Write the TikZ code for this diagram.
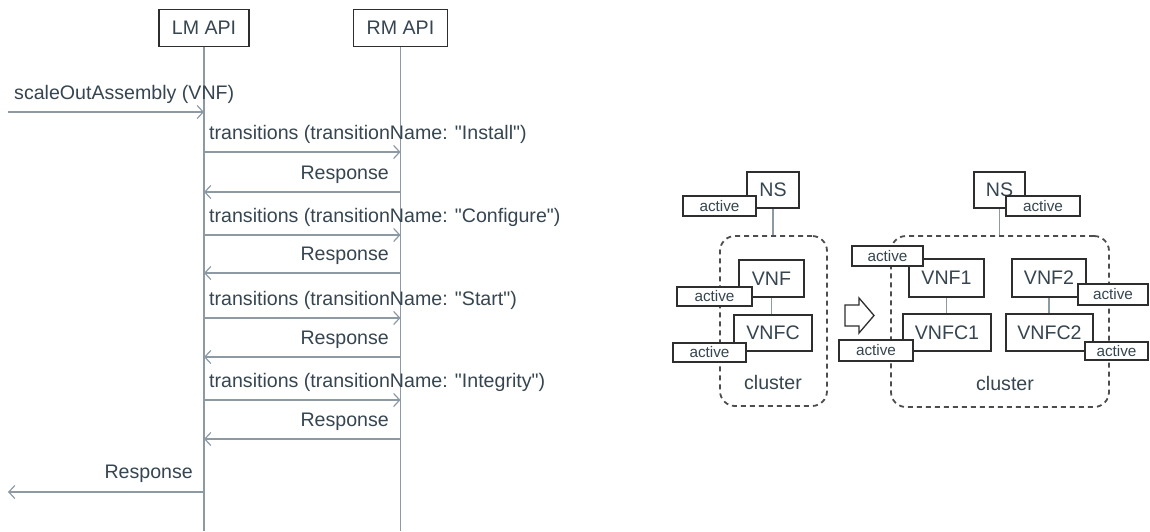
\documentclass[tikz,border=0pt]{standalone}
\usepackage{fontspec}
\setmainfont{Liberation Sans}[Ligatures=TeXOff]
\usetikzlibrary{arrows.meta}
\definecolor{txt}{HTML}{36454F}
\definecolor{ln}{HTML}{8E9AA3}
\definecolor{bx}{HTML}{2E2E2E}
\begin{document}
\begin{tikzpicture}[x=1pt,y=-1pt,
  font=\fontsize{19.6}{21}\selectfont,
  every node/.style={text=txt},
  actor/.style={draw=bx,line width=1.8pt,fill=white,inner sep=0,minimum width=#1,minimum height=37},
  life/.style={draw=ln,line width=1.5pt},
  msg/.style={draw=ln,line width=1.5pt,-{Straight Barb[length=6pt,width=13pt,line width=1.2pt]}},
  lbl/.style={inner sep=0},
  box/.style={draw=bx,line width=1.6pt,fill=white,inner sep=0},
  act/.style={draw=bx,line width=1.5pt,fill=white,inner sep=0,font=\fontsize{15.3}{16}\selectfont},
  link/.style={draw=ln,line width=1.3pt},
  clus/.style={draw=bx!85,line width=1.8pt,dash pattern=on 5pt off 4pt,rounded corners=15pt,inner sep=0}
]
\useasboundingbox (0,0) rectangle (1150,531);

% ---------- sequence diagram ----------
\node[actor=90] (LM) at (204,28) {LM API};
\node[actor=94] (RM) at (400.5,28) {RM API};
\coordinate (LMend) at (204,531);
\coordinate (RMend) at (400.5,531);
\draw[life] (LM.south) -- (LMend);
\draw[life] (RM.south) -- (RMend);

\coordinate (ext1) at (8,112);
\coordinate (ext2) at (8,492);

\draw[msg] (ext1) -- (LM |- ext1);
\node[lbl,anchor=base west] (t0) at (14,99) {scaleOutAssembly (VNF)};

\foreach \y/\name in {152/"Install",235/"Configure",318/"Start",400/"Integrity"}{
  \draw[msg] (LM |- 0,\y) -- (RM |- 0,\y);
  \node[lbl,anchor=base west] at (209,\y-13) {transitions (transitionName: \name)};
}
\foreach \y in {192,273,357,439}{
  \draw[msg] (RM |- 0,\y) -- (LM |- 0,\y);
  \node[lbl,anchor=base east] at (389,\y-13) {Response};
}
\draw[msg] (LM |- ext2) -- (ext2);
\node[lbl,anchor=base east] (t9) at (193,478) {Response};

% ---------- left cluster ----------
\node[clus,minimum width=107,minimum height=170] (C1) at (773.5,321) {};
\node[anchor=center] (C1l) at (773,382) {cluster};
\node[box,minimum width=52,minimum height=36] (NS1) at (773,190) {NS};
\draw[link] (NS1.south) -- (NS1.south |- C1.north);
\node[box,minimum width=65,minimum height=37] (VNF) at (771.5,278.5) {VNF};
\node[box,minimum width=78,minimum height=36] (VNFC) at (773,333) {VNFC};
\draw[link] (VNF.south) -- (VNF.south |- VNFC.north);
\node[act,minimum width=73,minimum height=20] (A1) at (719.5,206) {active};
\node[act,minimum width=75,minimum height=19] (A2) at (714.5,296.5) {active};
\node[act,minimum width=73,minimum height=19] (A3) at (709.5,352.5) {active};

% ---------- transition arrow ----------
\draw[bx,line width=1.3pt,fill=white] (845,305) -- (859,305) -- (859,298) -- (874,315.5) -- (859,333) -- (859,326) -- (845,326) -- cycle;

% ---------- right cluster ----------
\node[clus,minimum width=218,minimum height=171] (C2) at (1000,321.5) {};
\node[anchor=center] (C2l) at (1005,383) {cluster};
\node[box,minimum width=51,minimum height=36] (NS2) at (999.5,190) {NS};
\draw[link] (NS2.south) -- (NS2.south |- C2.north);
\node[box,minimum width=75,minimum height=38] (VNF1) at (946.5,278) {VNF1};
\node[box,minimum width=74,minimum height=38] (VNF2) at (1049,278) {VNF2};
\node[box,minimum width=88,minimum height=37] (VNFC1) at (947,332.5) {VNFC1};
\node[box,minimum width=87,minimum height=37] (VNFC2) at (1049.5,332.5) {VNFC2};
\draw[link] (VNF1.south) -- (VNF1.south |- VNFC1.north);
\draw[link] (VNF2.south) -- (VNF2.south |- VNFC2.north);
\node[act,minimum width=74,minimum height=20] (B1) at (1043,206) {active};
\node[act,minimum width=71,minimum height=20] (B2) at (887.5,256) {active};
\node[act,minimum width=70,minimum height=21] (B3) at (1113,294.5) {active};
\node[act,minimum width=74,minimum height=21] (B4) at (876,350.5) {active};
\node[act,minimum width=63,minimum height=18] (B5) at (1116.5,351) {active};
\end{tikzpicture}
\end{document}
